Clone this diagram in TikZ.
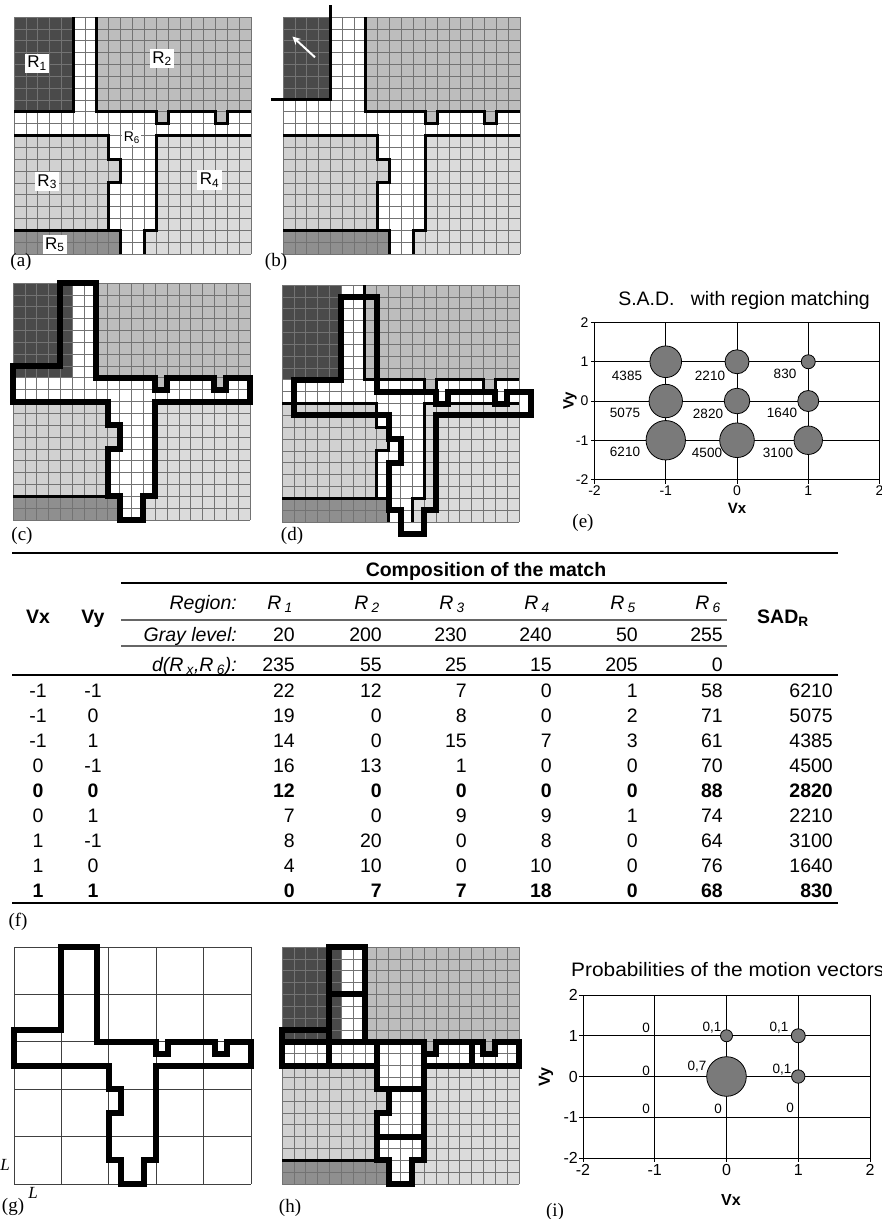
\documentclass[tikz,border=0pt]{standalone}
\usepackage{fontspec}
\setmainfont{Liberation Serif}
\setsansfont{Liberation Sans}
\usetikzlibrary{arrows.meta}

\definecolor{rone}{gray}{0.29}
\definecolor{rtwo}{gray}{0.74}
\definecolor{rthree}{gray}{0.82}
\definecolor{rfour}{gray}{0.86}
\definecolor{rfive}{gray}{0.56}
\definecolor{bubblec}{gray}{0.48}

% region outlines, in cells (x to the right, y downwards)
\newcommand{\pathRtwo}{(7,0) -- (20,0) -- (20,8) -- (18,8) -- (18,9) -- (17,9) -- (17,8) -- (13,8) -- (13,9) -- (12,9) -- (12,8) -- (7,8) -- cycle}
\newcommand{\pathRthree}{(0,10) -- (8,10) -- (8,12) -- (9,12) -- (9,14) -- (8,14) -- (8,18) -- (0,18) -- cycle}
\newcommand{\pathRfour}{(12,10) -- (20,10) -- (20,20) -- (11,20) -- (11,18) -- (12,18) -- cycle}
\newcommand{\pathRfive}{(0,18) rectangle (9,20)}
\newcommand{\pathMatch}{(4,0) -- (7,0) -- (7,8) -- (12,8) -- (12,9) -- (13,9) -- (13,8) -- (17,8) -- (17,9) -- (18,9) -- (18,8) -- (20,8) -- (20,10) -- (12,10) -- (12,18) -- (11,18) -- (11,20) -- (9,20) -- (9,18) -- (8,18) -- (8,14) -- (9,14) -- (9,12) -- (8,12) -- (8,10) -- (0,10) -- (0,7) -- (4,7) -- cycle}

% the 20x20 picture, #1 = block of R1
\newcommand{\frameimg}[1]{%
  \fill[white] (0,0) rectangle (20,20);
  \fill[rone] #1;
  \fill[rtwo] \pathRtwo;
  \fill[rthree] \pathRthree;
  \fill[rfour] \pathRfour;
  \fill[rfive] \pathRfive;
  \foreach \k in {0,...,20} {
    \draw[gridline] (\k,0) -- (\k,20);
    \draw[gridline] (0,\k) -- (20,\k);
  }}

% borders of R2..R5
\newcommand{\frameedges}{%
  \draw[regionline] (7,0) -- (7,8) -- (12,8) -- (12,9) -- (13,9) -- (13,8) -- (17,8) -- (17,9) -- (18,9) -- (18,8) -- (20,8);
  \draw[regionline] (0,10) -- (8,10) -- (8,12) -- (9,12) -- (9,14) -- (8,14) -- (8,18) -- (0,18);
  \draw[regionline] (8,18) -- (9,18) -- (9,20);
  \draw[regionline] (20,10) -- (12,10) -- (12,18) -- (11,18) -- (11,20);}

\begin{document}
\begin{tikzpicture}[x=1pt, y=-1pt,
    gridline/.style={black!55, line width=0.7pt},
    regionline/.style={line width=3pt},
    thinregion/.style={line width=2.5pt},
    matchline/.style={line width=6pt, line join=miter},
    blockline/.style={black!75, line width=0.9pt},
    rlabel/.style={fill=white, inner sep=2.5pt, font=\sffamily\fontsize{17}{19}\selectfont},
    panel/.style={font=\fontsize{19}{21}\selectfont, inner sep=0pt},
    sidelabel/.style={font=\itshape\fontsize{17}{19}\selectfont, inner sep=0pt},
    tnum/.style={font=\sffamily\fontsize{19.5}{22}\selectfont, inner sep=0pt},
    tbold/.style={font=\sffamily\bfseries\fontsize{19.5}{22}\selectfont, inner sep=0pt},
    titalic/.style={font=\sffamily\itshape\fontsize{19.5}{22}\selectfont, inner sep=0pt},
    rulethick/.style={line width=2pt},
    rulethin/.style={black!60, line width=1.2pt},
    chartline/.style={line width=1pt},
    bubble/.style={draw=black, fill=bubblec, line width=0.8pt},
    ticklabel/.style={font=\sffamily\fontsize{14}{16}\selectfont, inner sep=0pt},
    ticklabelb/.style={font=\sffamily\fontsize{16}{18}\selectfont, inner sep=0pt},
    valuelabel/.style={font=\sffamily\fontsize{13.5}{15}\selectfont, inner sep=0pt},
    axisname/.style={font=\sffamily\bfseries\fontsize{15}{17}\selectfont, inner sep=0pt},
    charttitle/.style={font=\sffamily\fontsize{19.5}{22}\selectfont, inner sep=0pt},
]
\useasboundingbox (0,0) rectangle (882,1219);

% (a) regions
\begin{scope}[shift={(14,17)}, x=11.85pt, y=-11.85pt]
  \frameimg{(0,0) rectangle (5,8)}
  \frameedges
  \draw[regionline] (5,0) -- (5,8) -- (0,8);
  \node[rlabel] (lblR1) at (1.95,3.9) {R\textsubscript{1}};
  \node[rlabel] (lblR2) at (12.5,3.5) {R\textsubscript{2}};
  \node[rlabel, font=\sffamily\fontsize{14}{16}\selectfont, inner sep=1.5pt] (lblR6) at (9.95,10.2) {R\textsubscript{6}};
  \node[rlabel] (lblR3) at (2.8,13.9) {R\textsubscript{3}};
  \node[rlabel] (lblR4) at (16.5,13.75) {R\textsubscript{4}};
  \node[rlabel] (lblR5) at (3.45,19.2) {R\textsubscript{5}};
\end{scope}
\node[panel] (capa) at (21,262) {(a)};

% (b) R1 moves up-left
\begin{scope}[shift={(283,17)}, x=11.85pt, y=-11.85pt]
  \frameimg{(0,0) rectangle (4,7)}
  \frameedges
  \draw[regionline] (4,-1) -- (4,7) -- (-1,7);
  \coordinate (mvtail) at (2.7,3.4);
  \coordinate (mvhead) at (0.8,1.65);
  \draw[white, line width=2pt, -{Stealth[length=8pt,width=8pt]}] (mvtail) -- (mvhead);
\end{scope}
\node[panel] (capb) at (276,262) {(b)};

% (c) region of frame b over frame a
\begin{scope}[shift={(13,283)}, x=11.85pt, y=-11.85pt]
  \frameimg{(0,0) rectangle (5,8)}
  \draw[thinregion] (0,18) -- (8,18);
  \draw[matchline] \pathMatch;
\end{scope}
\node[panel] (capc) at (22,536) {(c)};

% (d) displaced by (1,1)
\begin{scope}[shift={(282,285)}, x=11.85pt, y=-11.85pt]
  \frameimg{(0,0) rectangle (5,8)}
  \frameedges
  \begin{scope}[shift={(1,1)}]
    \draw[matchline] \pathMatch;
  \end{scope}
\end{scope}
\node[panel] (capd) at (292,536) {(d)};

% (e) S.A.D. chart
\node[charttitle] (sadtitle) at (744,300) {S.A.D.\ \ \ with region matching};
\begin{scope}[shift={(737,401)}, x=71.25pt, y=39.25pt]
  \foreach \k in {-1,0,1} {
    \draw[chartline] (\k,-2) -- (\k,2);
    \draw[chartline] (-2,\k) -- (2,\k);
  }
  \draw[chartline] (-2,-2) rectangle (2,2);
  \foreach \k in {-2,...,2} {
    \draw[chartline] (-2,\k) -- ++(-4pt,0pt);
    \draw[chartline] (\k,-2) -- ++(0pt,-4pt);
    \node[ticklabel, anchor=east] (sady\k) at ([xshift=-6pt]-2,\k) {\k};
    \node[ticklabel, anchor=north] (sadx\k) at ([yshift=-6pt]\k,-2) {\k};
  }
  \foreach \vx/\vy/\rad in {-1/1/15.8, -1/0/16.7, -1/-1/19.7, 0/1/12, 0/0/12.8, 0/-1/17.3, 1/1/7, 1/0/10.5, 1/-1/14.2}
    \draw[bubble] (\vx,\vy) circle[radius=\rad pt];
\end{scope}
\foreach \v/\xx/\yy in {4385/627/376, 2210/710/376, 830/785/374, 5075/625/413, 2820/708/414, 1640/782/413, 6210/625/452, 4500/707/453, 3100/778/453}
  \node[valuelabel] (sadv\v) at (\xx,\yy) {\v};
\node[axisname] (sadvx) at (737,508) {Vx};
\node[axisname, rotate=90] (sadvy) at (570,401) {Vy};
\node[panel] (cape) at (583,523) {(e)};

% (f) table
\draw[rulethick] (12,553) -- (838,553);
\draw[rulethick] (121,583) -- (727,583);
\draw[rulethin] (121,620) -- (727,620);
\draw[rulethin] (121,646) -- (727,646);
\draw[rulethick] (12,675) -- (838,675);
\draw[rulethick] (12,903) -- (838,903);
\node[tbold, anchor=base] (hcomp) at (486,576) {Composition of the match};
\node[tbold, anchor=base] (hvx) at (38,623) {Vx};
\node[tbold, anchor=base] (hvy) at (93,623) {Vy};
\node[tbold, anchor=base] (hsad) at (783,623) {SAD\textsubscript{R}};
\node[titalic, anchor=base east] (hregion) at (237,609) {Region:};
\node[titalic, anchor=base east] (hgray) at (237,641) {Gray level:};
\node[titalic, anchor=base east] (hdist) at (237,671) {d(R\,\textsubscript{x},R\,\textsubscript{6}):};
\foreach \g/\d/\xx [count=\j] in {20/235/295, 200/55/382, 230/25/467, 240/15/552, 50/205/638, 255/0/723} {
  \node[titalic, anchor=base east] (rname\j) at (\xx-2,609) {R\,\textsubscript{\j}};
  \node[tnum, anchor=base east] (gray\j) at (\xx,641) {\g};
  \node[tnum, anchor=base east] (dist\j) at (\xx,671) {\d};
}
\foreach \vx/\vy/\pa/\pb/\pc/\pd/\pe/\pf/\sad/\wt [count=\i] in {
    -1/-1/22/12/7/0/1/58/6210/tnum,
    -1/0/19/0/8/0/2/71/5075/tnum,
    -1/1/14/0/15/7/3/61/4385/tnum,
    0/-1/16/13/1/0/0/70/4500/tnum,
    0/0/12/0/0/0/0/88/2820/tbold,
    0/1/7/0/9/9/1/74/2210/tnum,
    1/-1/8/20/0/8/0/64/3100/tnum,
    1/0/4/10/0/10/0/76/1640/tnum,
    1/1/0/7/7/18/0/68/830/tbold} {
  \pgfmathsetmacro{\ty}{672+25*\i}
  \node[\wt, anchor=base] (vx\i) at (38,\ty) {\vx};
  \node[\wt, anchor=base] (vy\i) at (93,\ty) {\vy};
  \foreach \v/\xx [count=\j] in {\pa/295, \pb/382, \pc/467, \pd/552, \pe/638, \pf/723}
    \node[\wt, anchor=base east] (cnt\i-\j) at (\xx,\ty) {\v};
  \node[\wt, anchor=base east] (sad\i) at (833,\ty) {\sad};
}
\node[panel] (capf) at (18,922) {(f)};

% (g) blocks of LxL
\begin{scope}[shift={(14,947)}, x=11.85pt, y=-11.85pt]
  \foreach \k in {0,4,...,20} {
    \draw[blockline] (\k,0) -- (\k,20);
    \draw[blockline] (0,\k) -- (20,\k);
  }
  \draw[matchline] \pathMatch;
\end{scope}
\node[sidelabel] (sideL) at (5,1165) {L};
\node[sidelabel] (baseL) at (33,1193) {L};
\node[panel] (capg) at (13,1207) {(g)};

% (h) region cut into blocks
\begin{scope}[shift={(282,947)}, x=11.85pt, y=-11.85pt]
  \frameimg{(0,0) rectangle (5,8)}
  \draw[thinregion] (0,18) -- (8,18);
  \begin{scope}
    \clip \pathMatch;
    \foreach \k in {4,8,12,16} {
      \draw[matchline] (\k,-1) -- (\k,21);
      \draw[matchline] (-1,\k) -- (21,\k);
    }
  \end{scope}
  \draw[matchline] \pathMatch;
\end{scope}
\node[panel] (caph) at (290,1208) {(h)};

% (i) probabilities chart
\node[charttitle, anchor=west] (prbtitle) at (571,970) {\scalebox{1.07}[1]{Probabilities of the motion vectors}};
\begin{scope}[shift={(726.5,1076.5)}, x=71.75pt, y=40.75pt]
  \foreach \k in {-1,0,1} {
    \draw[chartline] (\k,-2) -- (\k,2);
    \draw[chartline] (-2,\k) -- (2,\k);
  }
  \draw[chartline] (-2,-2) rectangle (2,2);
  \foreach \k in {-2,...,2} {
    \draw[chartline] (-2,\k) -- ++(-4pt,0pt);
    \draw[chartline] (\k,-2) -- ++(0pt,-4pt);
    \node[ticklabelb, anchor=east] (prby\k) at ([xshift=-5pt]-2,\k) {\k};
    \node[ticklabelb, anchor=north] (prbx\k) at ([yshift=-6pt]\k,-2) {\k};
  }
  \foreach \vx/\vy/\rad in {0/1/6, 1/1/7, 0/0/19.8, 1/0/6.7}
    \draw[bubble] (\vx,\vy) circle[radius=\rad pt];
\end{scope}
\foreach \v/\xx/\yy [count=\n] in {0/646/1028, 0{,}1/712/1028, 0{,}1/779/1028, 0/646/1071, 0{,}7/697/1067, 0{,}1/782/1070, 0/646/1109, 0/718/1109, 0/790/1108}
  \node[valuelabel] (prbv\n) at (\xx,\yy) {\v};
\node[axisname, font=\sffamily\bfseries\fontsize{16}{18}\selectfont] (prbvx) at (731,1200) {Vx};
\node[axisname, font=\sffamily\bfseries\fontsize{16}{18}\selectfont, rotate=90] (prbvy) at (546,1077) {Vy};
\node[panel] (capi) at (555,1212) {(i)};

\end{tikzpicture}
\end{document}
